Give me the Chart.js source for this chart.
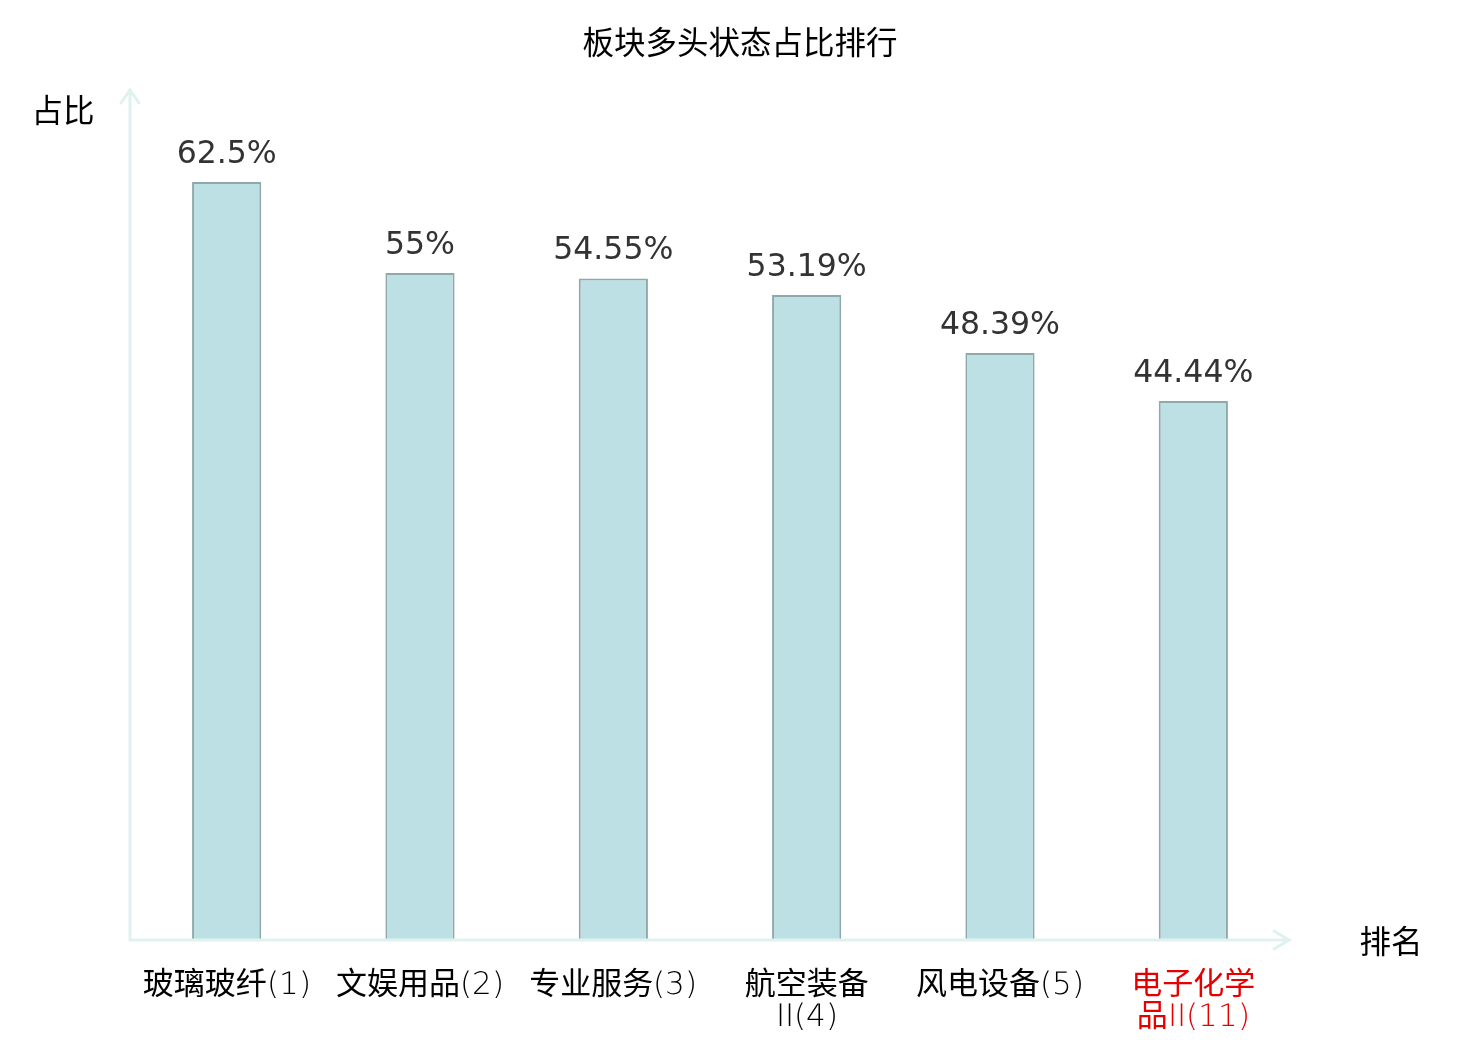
<!DOCTYPE html>
<html>
<head>
<meta charset="utf-8">
<script src="https://cdn.jsdelivr.net/npm/chart.js@4"></script>
<style>
  html, body { margin: 0; padding: 0; background: #fff; }
  #wrap { width: 1480px; height: 1040px; position: relative; }
  @font-face {
    font-family: "ThinLatin";
    src: local("DejaVu Sans ExtraLight"), local("DejaVuSans-ExtraLight");
    unicode-range: U+0000-024F;
  }
</style>
</head>
<body>
<div id="wrap"><canvas id="c"></canvas></div>
<script>
// data
var categories = [
    ["玻璃玻纤(1)"],
    ["文娱用品(2)"],
    ["专业服务(3)"],
    ["航空装备", "II(4)"],
    ["风电设备(5)"],
    ["电子化学", "品II(11)"]
];
var values = [62.5, 55, 54.55, 53.19, 48.39, 44.44];
var valueLabels = ["62.5%", "55%", "54.55%", "53.19%", "48.39%", "44.44%"];
var highlightIndex = 5;
var titleText = "板块多头状态占比排行";
var yName = "占比";
var xName = "排名";

var CJK = "'Noto Sans CJK SC', 'Noto Sans', sans-serif";
var AXIS = "#dff2ef";

// axes with arrows, title, axis names, value labels
var decor = {
    id: "decor",
    afterDatasetsDraw: function (chart) {
        var ctx = chart.ctx, a = chart.chartArea;
        var x0 = a.left, y0 = a.bottom;
        ctx.save();
        ctx.strokeStyle = AXIS;
        ctx.lineWidth = 3;
        ctx.lineCap = "round";
        ctx.beginPath();
        ctx.moveTo(x0, y0); ctx.lineTo(x0, a.top - 1);
        ctx.moveTo(x0 - 9, a.top + 12); ctx.lineTo(x0, a.top - 1); ctx.lineTo(x0 + 9, a.top + 12);
        ctx.moveTo(x0, y0); ctx.lineTo(a.right, y0);
        ctx.moveTo(a.right - 16, y0 - 9); ctx.lineTo(a.right - 1, y0); ctx.lineTo(a.right - 16, y0 + 9);
        ctx.stroke();

        ctx.fillStyle = "#000";
        ctx.font = "31.5px " + CJK;
        ctx.textAlign = "center";
        ctx.textBaseline = "middle";
        ctx.fillText(titleText, 740, 42);
        ctx.fillText(yName, 63, 110);
        ctx.fillText(xName, 1391, 941);

        var meta = chart.getDatasetMeta(0);
        ctx.fillStyle = "#333";
        ctx.font = "31.5px 'DejaVu Sans', sans-serif";
        ctx.textBaseline = "alphabetic";
        meta.data.forEach(function (bar, i) {
            ctx.fillText(valueLabels[i], bar.x, bar.y - 19);
        });
        ctx.restore();
    }
};

function draw() {
    new Chart(document.getElementById("c"), {
        type: "bar",
        data: {
            labels: categories,
            datasets: [{
                data: values,
                backgroundColor: "#bce0e3",
                borderColor: "#8ea9aa",
                borderWidth: 2,
                categoryPercentage: 1,
                barPercentage: 0.358
            }]
        },
        options: {
            responsive: true,
            maintainAspectRatio: false,
            animation: false,
            layout: { padding: { left: 130, right: 190, top: 91, bottom: 0 } },
            plugins: {
                legend: { display: false },
                title: { display: false },
                tooltip: { enabled: false }
            },
            scales: {
                x: {
                    grid: { display: false, drawTicks: false },
                    border: { display: false },
                    afterFit: function (s) { s.height = 100; },
                    ticks: {
                        padding: 30,
                        maxRotation: 0,
                        autoSkip: false,
                        font: { family: "ThinLatin, " + CJK, size: 31, lineHeight: 1.03 },
                        color: function (c) { return c.index === highlightIndex ? "#e60000" : "#000"; }
                    }
                },
                y: {
                    display: false,
                    min: 0,
                    max: 70
                }
            }
        },
        plugins: [decor]
    });
}

document.fonts.load("31px ThinLatin", "(1)").then(draw, draw);
</script>
</body>
</html>
